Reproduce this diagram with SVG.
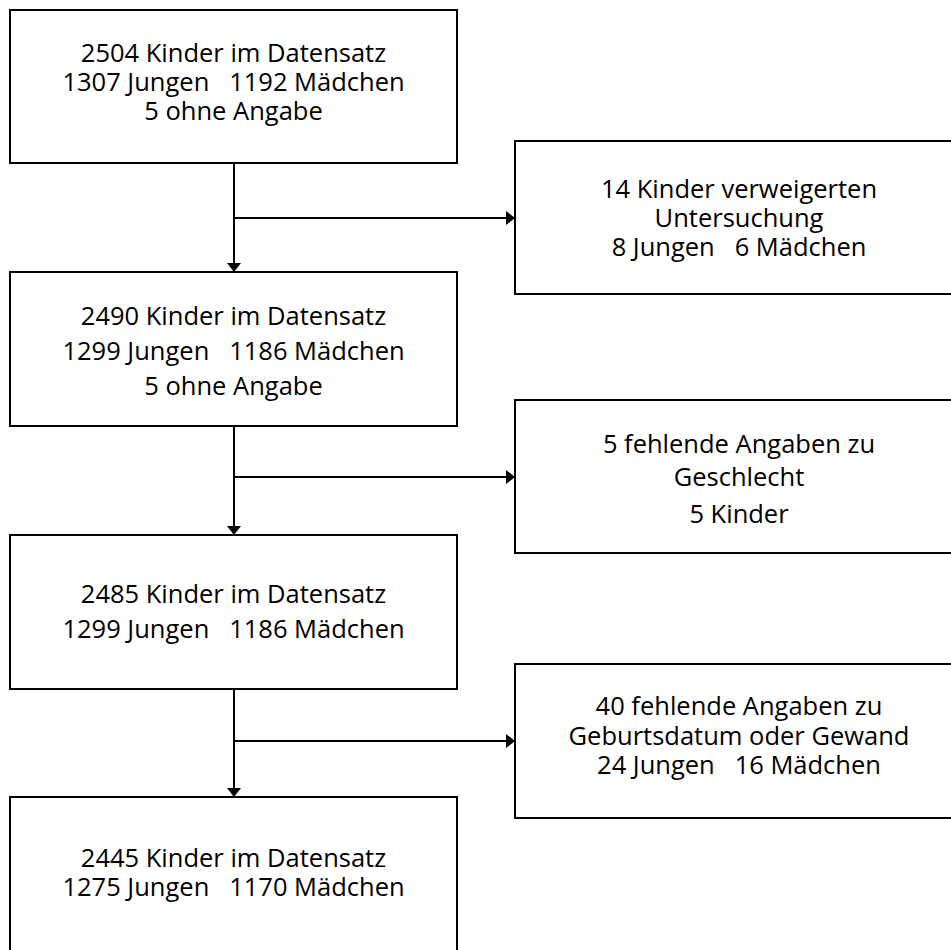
<svg xmlns="http://www.w3.org/2000/svg" width="951" height="950" viewBox="0 0 951 950">
  <style>
    .box { fill: #ffffff; stroke: #000000; stroke-width: 2; }
    .lbl { font-family: "Open Sans", "Noto Sans", "Liberation Sans", sans-serif; font-size: 25.5px; fill: #000000; text-anchor: middle; white-space: pre; }
    .conn { fill: none; stroke: #000000; stroke-width: 2; }
  </style>
  <defs>
    <marker id="arrow" viewBox="0 0 9 14" refX="0" refY="7" markerWidth="9" markerHeight="14" markerUnits="userSpaceOnUse" orient="auto">
      <path d="M0,0 L9,7 L0,14 z" fill="#000000"/>
    </marker>
  </defs>
  <rect width="951" height="950" fill="#ffffff"/>

  <g id="connectors">
    <path class="conn" d="M234,163 L234,263" marker-end="url(#arrow)"/>
    <path class="conn" d="M234,218 L506,218" marker-end="url(#arrow)"/>
    <path class="conn" d="M234,426 L234,526" marker-end="url(#arrow)"/>
    <path class="conn" d="M234,477 L506,477" marker-end="url(#arrow)"/>
    <path class="conn" d="M234,689 L234,788" marker-end="url(#arrow)"/>
    <path class="conn" d="M234,741 L506,741" marker-end="url(#arrow)"/>
  </g>

  <g id="node1">
    <rect class="box" x="10" y="10" width="447" height="153"/>
    <text class="lbl" x="233.5" y="61.7" xml:space="preserve">2504 Kinder im Datensatz</text>
    <text class="lbl" x="233.5" y="90.7" xml:space="preserve">1307 Jungen   1192 Mädchen</text>
    <text class="lbl" x="233.5" y="119.5" xml:space="preserve">5 ohne Angabe</text>
  </g>

  <g id="node2">
    <rect class="box" x="10" y="272" width="447" height="154"/>
    <text class="lbl" x="233.5" y="325" xml:space="preserve">2490 Kinder im Datensatz</text>
    <text class="lbl" x="233.5" y="360" xml:space="preserve">1299 Jungen   1186 Mädchen</text>
    <text class="lbl" x="233.5" y="395" xml:space="preserve">5 ohne Angabe</text>
  </g>

  <g id="node3">
    <rect class="box" x="10" y="535" width="447" height="154"/>
    <text class="lbl" x="233.5" y="603" xml:space="preserve">2485 Kinder im Datensatz</text>
    <text class="lbl" x="233.5" y="638" xml:space="preserve">1299 Jungen   1186 Mädchen</text>
  </g>

  <g id="node4">
    <rect class="box" x="10" y="797" width="447" height="160"/>
    <text class="lbl" x="233.5" y="867" xml:space="preserve">2445 Kinder im Datensatz</text>
    <text class="lbl" x="233.5" y="896" xml:space="preserve">1275 Jungen   1170 Mädchen</text>
  </g>

  <g id="excl1">
    <rect class="box" x="515" y="141" width="448" height="153"/>
    <text class="lbl" x="739" y="198.3" xml:space="preserve">14 Kinder verweigerten</text>
    <text class="lbl" x="739" y="227" xml:space="preserve">Untersuchung</text>
    <text class="lbl" x="739" y="256" xml:space="preserve">8 Jungen   6 Mädchen</text>
  </g>

  <g id="excl2">
    <rect class="box" x="515" y="400" width="448" height="153"/>
    <text class="lbl" x="739" y="452.7" xml:space="preserve">5 fehlende Angaben zu</text>
    <text class="lbl" x="739" y="486" xml:space="preserve">Geschlecht</text>
    <text class="lbl" x="739" y="522.7" xml:space="preserve">5 Kinder</text>
  </g>

  <g id="excl3">
    <rect class="box" x="515" y="664" width="448" height="154"/>
    <text class="lbl" x="739" y="715" xml:space="preserve">40 fehlende Angaben zu</text>
    <text class="lbl" x="739" y="745" xml:space="preserve">Geburtsdatum oder Gewand</text>
    <text class="lbl" x="739" y="774" xml:space="preserve">24 Jungen   16 Mädchen</text>
  </g>
</svg>
